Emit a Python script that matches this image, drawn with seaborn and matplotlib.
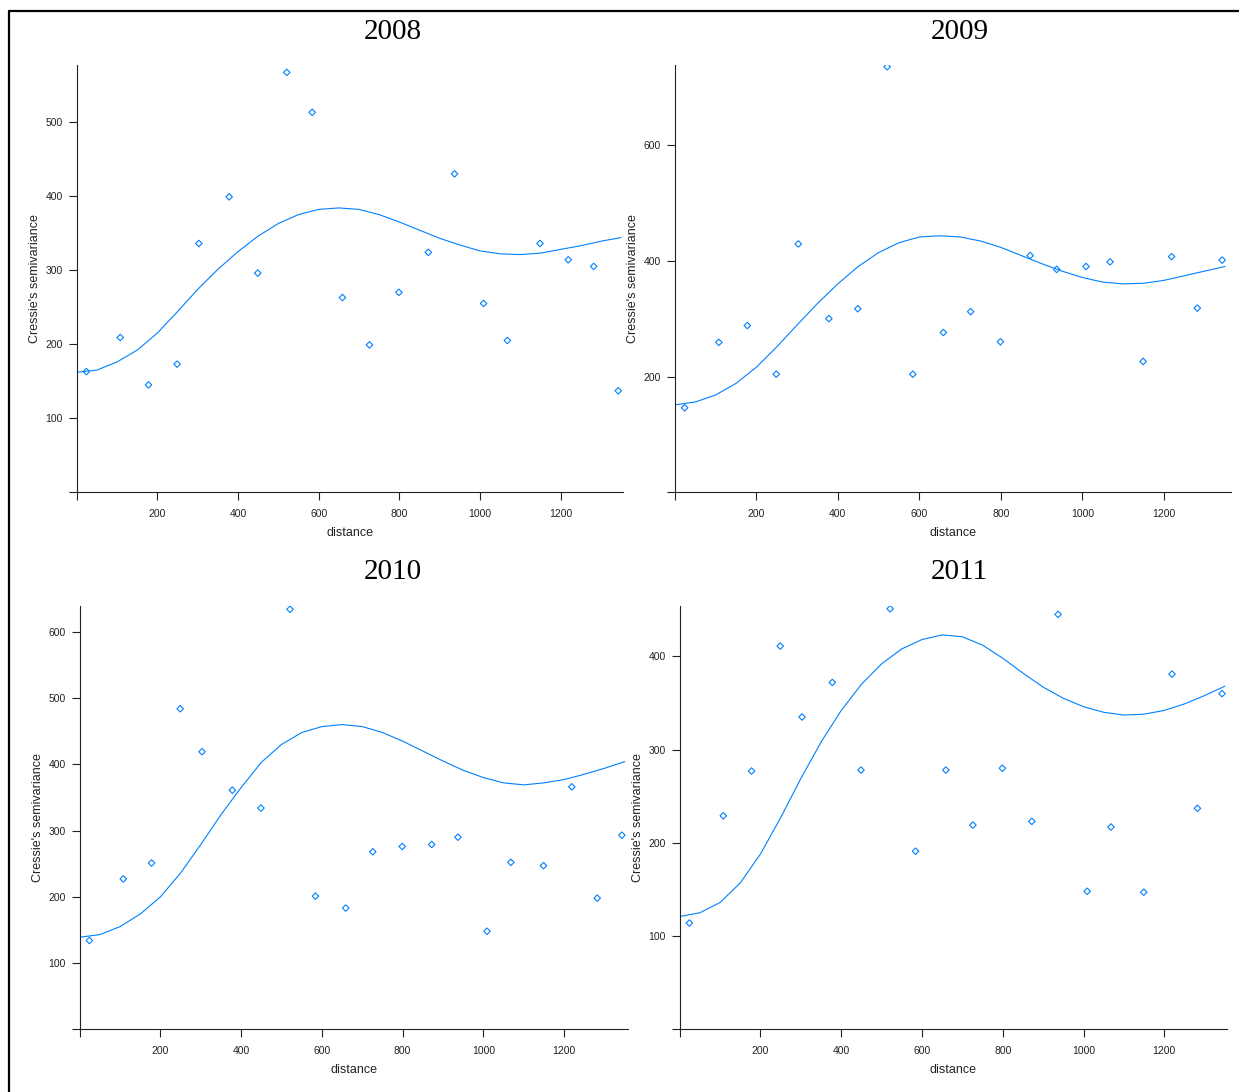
import pandas as pd
import matplotlib.pyplot as plt
import seaborn as sns
from matplotlib.lines import Line2D

sns.set_theme(style="ticks")
plt.rcParams['font.family'] = ['Liberation Sans', 'DejaVu Sans']

# Distancias de los puntos del semivariograma (iguales en los cuatro años)
distancias = [24, 108, 178, 249, 303, 378, 449, 521, 584, 659, 726, 799, 872, 937,
              1009, 1068, 1149, 1219, 1282, 1343]

# Semivarianza de Cressie observada por año
semiv_2008 = [163, 209, 145, 173, 336, 399, 296, 567, 513, 263, 199, 270, 324, 430,
              255, 205, 336, 314, 305, 137]
semiv_2009 = [146, 259, 288, 204, 429, 300, 317, 735, 204, 276, 312, 260, 409, 385,
              390, 398, 226, 407, 318, 401]
semiv_2010 = [134, 227, 251, 484, 419, 361, 334, 634, 201, 183, 268, 276, 279, 290,
              148, 252, 247, 366, 198, 293]
semiv_2011 = [114, 229, 277, 411, 335, 372, 278, 451, 191, 278, 219, 280, 223, 445,
              148, 217, 147, 381, 237, 360]

# Modelo ajustado, leído cada 50 unidades de distancia
dist_modelo = [0, 50, 100, 150, 200, 250, 300, 350, 400, 450, 500, 550, 600, 650,
               700, 750, 800, 850, 900, 950, 1000, 1050, 1100, 1150, 1200, 1250,
               1300, 1350]
modelo_2008 = [162, 165, 176, 192, 215, 244, 274, 301, 325, 346, 363, 375, 382, 384,
               382, 375, 365, 354, 343, 334, 326, 322, 321, 323, 328, 333, 339, 344]
modelo_2009 = [151, 156, 168, 188, 216, 251, 289, 326, 360, 390, 414, 431, 441, 443,
               441, 434, 423, 409, 395, 382, 371, 363, 360, 361, 366, 374, 382, 390]
modelo_2010 = [139, 143, 155, 174, 200, 236, 279, 324, 365, 403, 430, 448, 457, 460,
               457, 448, 435, 420, 405, 391, 380, 372, 369, 372, 377, 385, 394, 404]
modelo_2011 = [121, 125, 136, 157, 188, 227, 269, 308, 342, 370, 392, 408, 418, 423,
               421, 412, 398, 382, 367, 355, 346, 340, 337, 338, 342, 349, 358, 368]

anios = ['2008', '2009', '2010', '2011']
observados = [semiv_2008, semiv_2009, semiv_2010, semiv_2011]
modelos = [modelo_2008, modelo_2009, modelo_2010, modelo_2011]

# Posición de cada panel en píxeles: izquierda, derecha, abajo, arriba
paneles = [(76.7, 622.7, 492.3, 65), (674.8, 1230.7, 492.3, 65),
           (79.7, 628.3, 1029.3, 606), (679.7, 1227.3, 1029.3, 606)]
xmax = [1354, 1364, 1359, 1356]
ymax = [577, 738, 639, 454]
yticks = [[0, 100, 200, 300, 400, 500], [0, 200, 400, 600],
          [0, 100, 200, 300, 400, 500, 600], [0, 100, 200, 300, 400]]
titulos_pos = [(392.5, 31.7), (960, 31.7), (393, 572), (959, 572)]

W, H = 1239, 1092
azul = '#0080ff'
gris = '#222222'

fig = plt.figure(figsize=(W / 100, H / 100), dpi=100)

for i, anio in enumerate(anios):
    izq, der, abajo, arriba = paneles[i]
    ax = fig.add_axes([izq / W, (H - abajo) / H, (der - izq) / W, (abajo - arriba) / H])

    df_obs = pd.DataFrame({'distance': distancias, 'gamma': observados[i]})
    df_mod = pd.DataFrame({'distance': dist_modelo, 'gamma': modelos[i]})

    sns.lineplot(data=df_mod, x='distance', y='gamma', ax=ax, color=azul,
                 linewidth=0.8, errorbar=None)
    sns.scatterplot(data=df_obs, x='distance', y='gamma', ax=ax, marker='D', s=11,
                    facecolor='none', edgecolor=azul, linewidth=0.8)

    ax.set_xlim(0, xmax[i])
    ax.set_ylim(0, ymax[i])
    ax.set_xticks([0, 200, 400, 600, 800, 1000, 1200])
    ax.set_xticklabels([''] + ['200', '400', '600', '800', '1000', '1200'])
    ax.set_yticks(yticks[i])
    ax.set_yticklabels([''] + [str(v) for v in yticks[i][1:]])
    ax.tick_params(axis='both', direction='out', length=6, width=0.8, color=gris,
                   labelsize=7.5, labelcolor=gris)
    ax.tick_params(axis='x', pad=6)
    ax.tick_params(axis='y', pad=4)

    sns.despine(ax=ax)
    for lado in ['left', 'bottom']:
        ax.spines[lado].set_color(gris)
        ax.spines[lado].set_linewidth(0.8)

    ax.set_xlabel('distance', fontsize=9, color=gris, labelpad=6)
    ax.set_ylabel("Cressie's semivariance", fontsize=9, color=gris, labelpad=3)

    tx, ty = titulos_pos[i]
    fig.text(tx / W, (H - ty) / H, anio, ha='center', va='center', fontsize=21,
             family=['Liberation Serif', 'DejaVu Serif'], color='black')

# Marco negro del recuadro exterior
fig.add_artist(Line2D([9 / W, 9 / W], [0, (H - 11) / H], color='black', linewidth=1.6))
fig.add_artist(Line2D([9 / W, 1], [(H - 11) / H, (H - 11) / H], color='black', linewidth=1.6))

fig.savefig('out.png', dpi=100)
